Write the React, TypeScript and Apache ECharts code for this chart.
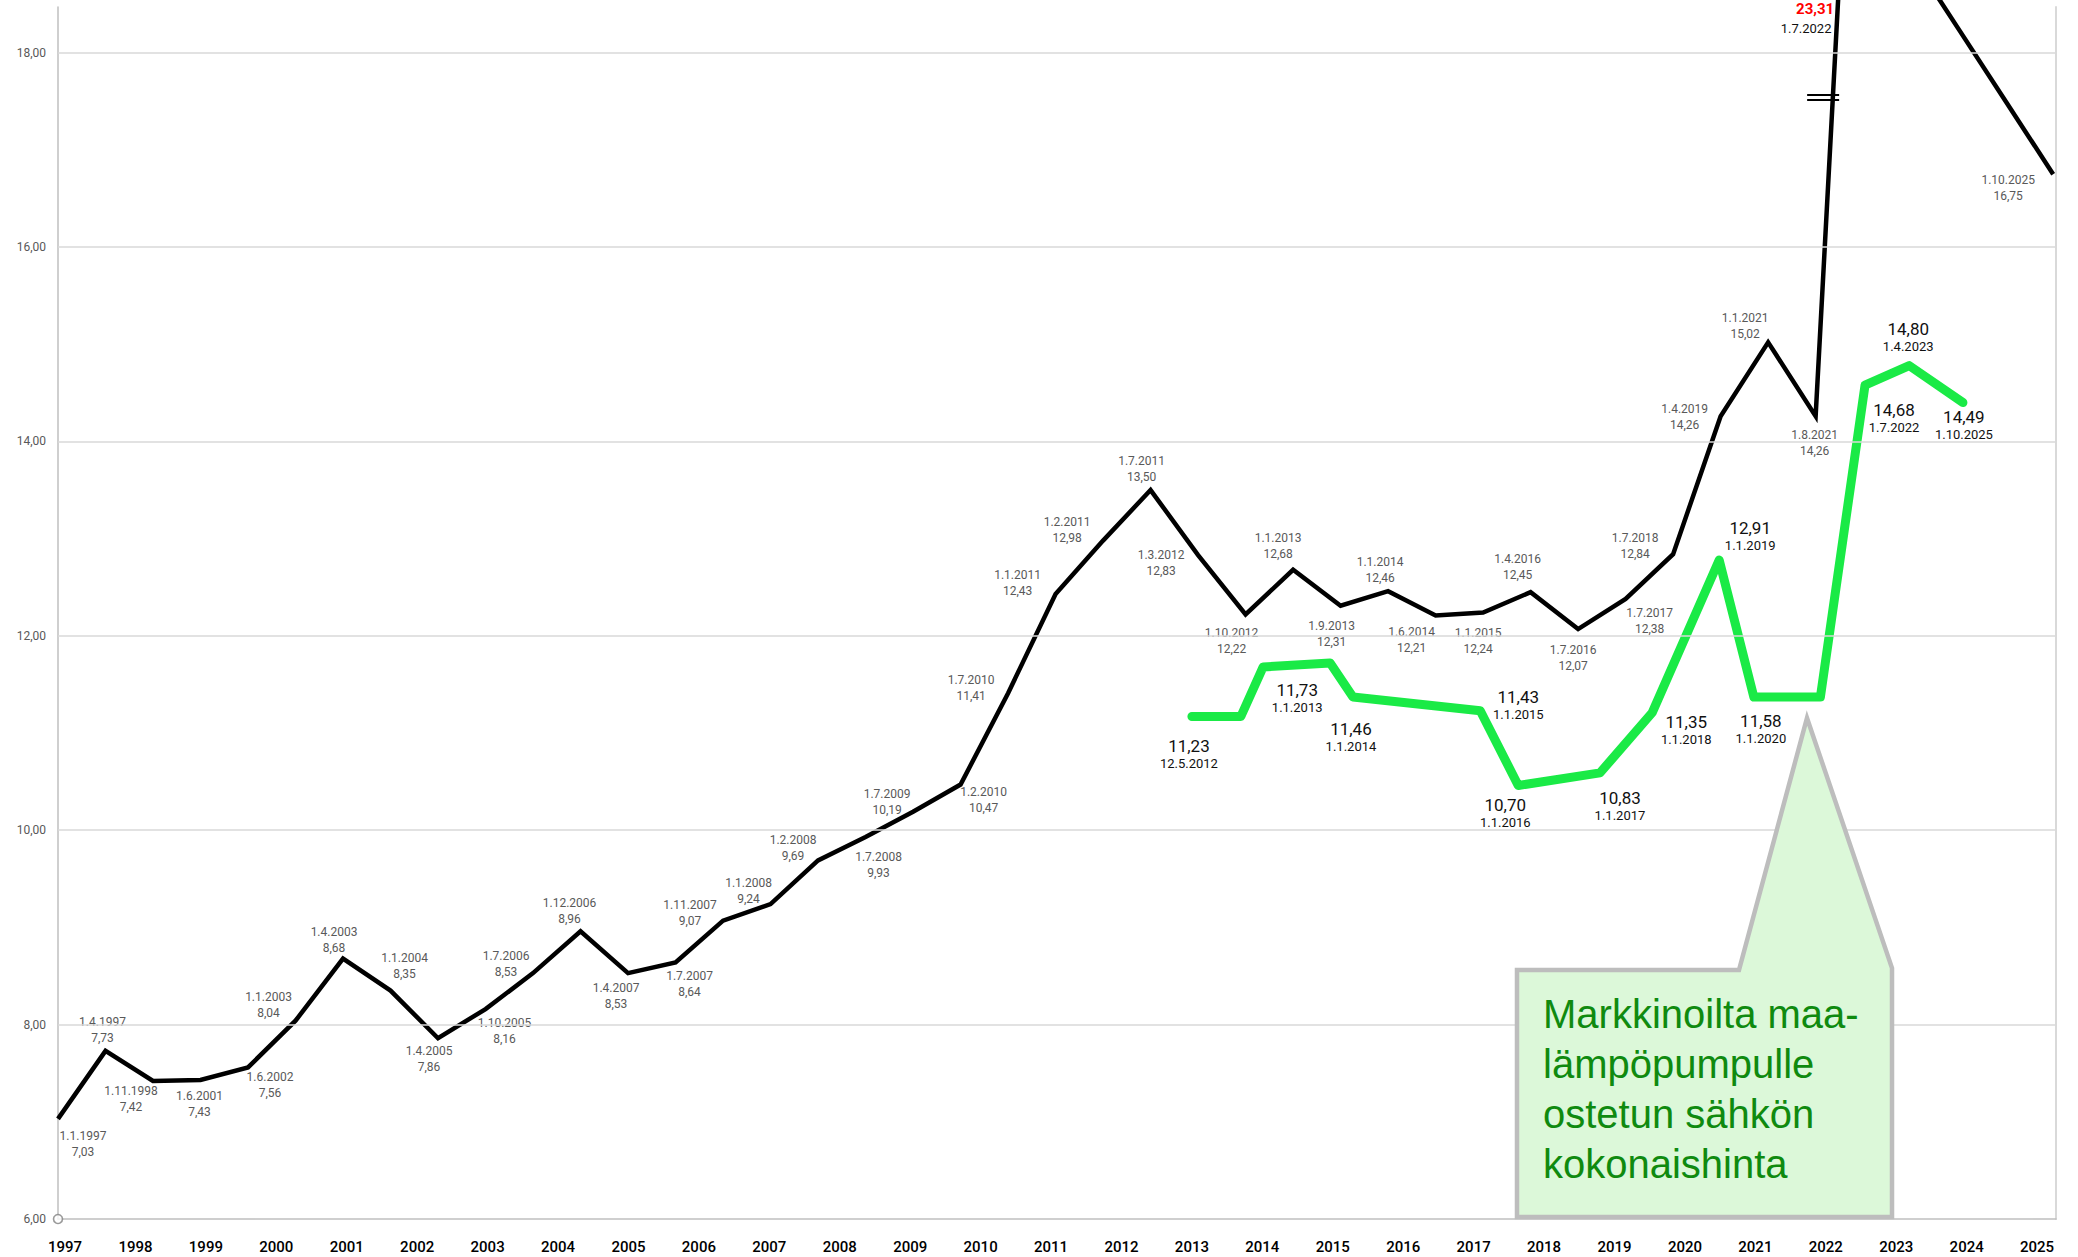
import React, { useEffect, useRef } from 'react';
import * as echarts from 'echarts';

// ---------- DATA ----------
const yearLabels = ['1997','1998','1999','2000','2001','2002','2003','2004','2005','2006','2007','2008','2009','2010','2011','2012','2013','2014','2015','2016','2017','2018','2019','2020','2021','2022','2023','2024','2025'];

const yTicks = [8, 10, 12, 14, 16, 18];

const blackDates = ['1.1.1997','1.4.1997','1.11.1998','1.6.2001','1.6.2002','1.1.2003','1.4.2003','1.1.2004','1.4.2005','1.10.2005','1.7.2006','1.12.2006','1.4.2007','1.7.2007','1.11.2007','1.1.2008','1.2.2008','1.7.2008','1.7.2009','1.2.2010','1.7.2010','1.1.2011','1.2.2011','1.7.2011','1.3.2012','1.10.2012','1.1.2013','1.9.2013','1.1.2014','1.6.2014','1.1.2015','1.4.2016','1.7.2016','1.7.2017','1.7.2018','1.4.2019','1.1.2021','1.8.2021','1.7.2022','','','','1.10.2025'];
const blackValues = [7.03,7.73,7.42,7.43,7.56,8.04,8.68,8.35,7.86,8.16,8.53,8.96,8.53,8.64,9.07,9.24,9.69,9.93,10.19,10.47,11.41,12.43,12.98,13.50,12.83,12.22,12.68,12.31,12.46,12.21,12.24,12.45,12.07,12.38,12.84,14.26,15.02,14.26,23.31,19.00,18.25,17.50,16.75];

// green series: position along the point axis and value
const greenX = [23.87, 24.9, 25.37, 26.78, 27.26, 29.94, 30.74, 32.46, 33.56, 34.97, 35.7, 37.1, 38.04, 38.97, 40.1];
const greenValues = [11.17, 11.17, 11.68, 11.72, 11.37, 11.23, 10.46, 10.59, 11.21, 12.78, 11.37, 11.37, 14.58, 14.78, 14.40];
const greenLabelValues = ['11,23','','11,73','','11,46','11,43','10,70','10,83','11,35','12,91','11,58','','14,68','14,80','14,49'];
const greenLabelDates = ['12.5.2012','','1.1.2013','','1.1.2014','1.1.2015','1.1.2016','1.1.2017','1.1.2018','1.1.2019','1.1.2020','','1.7.2022','1.4.2023','1.10.2025'];

const peakIndex = 38;
const peakValueText = '23,31';
const peakDateText = '1.7.2022';
const originMarker = [[0, 6]];

const calloutText = 'Markkinoilta maa-\nlämpöpumpulle\nostetun sähkön\nkokonaishinta';

// ---------- LAYOUT (label offsets in px) ----------
const blackLabelOffsets: (number[] | null)[] = [
  [25,25],[-3,-21],[-22,18],[-1,24],[22,18],[-27,-16],[-9,-19],[14,-25],[-9,21],[19,22],
  [-27,-9],[-11,-20],[-12,23],[14,22],[-33,-8],[-22,-13],[-25,-12],[13,28],[-26,-10],[23,15],
  [-37,-5],[-38,-11],[-36,-11],[-9,-21],[-37,8],[-14,27],[-15,-24],[-9,28],[-8,-21],[-24,25],
  [-5,28],[-13,-25],[-5,29],[24,22],[-38,-8],[-36,1],[-23,-16],[-1,27],null,null,
  null,null,[-45,14]
];
const greenLabelOffsets: (number[] | null)[] = [
  [-3,37], null, [34,31], null, [-2,40], [38,-6], [-13,27], [20,33], [34,17], [31,-24], [7,32], null, [29,33], [-1,-29], [1,22]
];

const fmt = (v: number) => v.toFixed(2).replace('.', ',');

export default function App() {
  const ref = useRef<HTMLDivElement>(null);

  useEffect(() => {
    if (!ref.current) return;
    const chart = echarts.init(ref.current, null, { renderer: 'svg' });
    const font = 'Roboto';
    const yMax = 18.47;

    const option: any = {
      animation: false,
      backgroundColor: '#ffffff',
      grid: [
        { left: 58, right: 22, top: 7, bottom: 38 },
        { left: 29.8, right: 5.7, top: 7, bottom: 38 },
      ],
      xAxis: [
        {
          type: 'value', gridIndex: 0, min: 0, max: 42.06,
          axisLine: { show: true, onZero: false, lineStyle: { color: '#bfbfbf', width: 1.5 } },
          axisTick: { show: false }, axisLabel: { show: false }, splitLine: { show: false },
        },
        {
          type: 'category', gridIndex: 1, data: yearLabels, boundaryGap: true,
          axisLine: { show: false }, axisTick: { show: false }, splitLine: { show: false },
          axisLabel: { interval: 0, margin: 20, fontSize: 15, color: '#000000', fontWeight: 500, fontFamily: font },
        },
      ],
      yAxis: [
        {
          type: 'value', gridIndex: 0, min: 6, max: yMax, interval: 2,
          axisLine: { show: true, lineStyle: { color: '#bfbfbf', width: 1.5 } },
          axisTick: { show: false }, splitLine: { show: false },
          axisLabel: {
            showMaxLabel: false,
            formatter: (v: number) => (v > 18.2 ? '' : fmt(v)),
            color: '#595959', fontSize: 12, margin: 12, fontFamily: font,
          },
        },
        { type: 'value', gridIndex: 1, min: 0, max: 1, show: false },
        {
          type: 'value', gridIndex: 0, min: 6, max: yMax, position: 'right',
          axisLine: { show: true, lineStyle: { color: '#d9d9d9', width: 2 } },
          axisTick: { show: false }, axisLabel: { show: false }, splitLine: { show: false },
        },
      ],
      series: [
        {
          type: 'line', xAxisIndex: 0, yAxisIndex: 0, silent: true, z: 1,
          data: [[0, 6]], symbol: 'none', lineStyle: { opacity: 0 },
          markLine: {
            silent: true, symbol: ['none', 'none'], label: { show: false },
            lineStyle: { color: '#d9d9d9', width: 1.5, type: 'solid' },
            data: yTicks.map((v) => ({ yAxis: v })),
          },
        },
        {
          name: 'musta', type: 'line', xAxisIndex: 0, yAxisIndex: 0, silent: true, z: 3,
          clip: false, symbol: 'circle', symbolSize: 2, showSymbol: true, showAllSymbol: true,
          itemStyle: { color: 'rgba(0,0,0,0)' },
          lineStyle: { color: '#000000', width: 4.5, join: 'miter' },
          data: blackValues.map((v, i) => {
            const off = blackLabelOffsets[i];
            return {
              value: [i, v],
              label: off ? { show: true, offset: off } : { show: false },
            };
          }),
          label: {
            position: 'inside',
            formatter: (p: any) => `{d|${blackDates[p.dataIndex]}}\n{v|${fmt(blackValues[p.dataIndex])}}`,
            rich: {
              d: { fontSize: 12, lineHeight: 16, color: '#595959', fontFamily: font, align: 'center' },
              v: { fontSize: 12, lineHeight: 16, color: '#595959', fontFamily: font, align: 'center' },
            },
          },
        },
        {
          name: 'vihreä', type: 'line', xAxisIndex: 0, yAxisIndex: 0, silent: true, z: 4,
          symbol: 'circle', symbolSize: 2, showSymbol: true, showAllSymbol: true,
          itemStyle: { color: 'rgba(0,0,0,0)' },
          lineStyle: { color: '#1aea46', width: 9, cap: 'round', join: 'round' },
          data: greenX.map((x, i) => {
            const off = greenLabelOffsets[i];
            return {
              value: [x, greenValues[i]],
              label: off ? { show: true, offset: off } : { show: false },
            };
          }),
          label: {
            position: 'inside',
            formatter: (p: any) => `{v|${greenLabelValues[p.dataIndex]}}\n{d|${greenLabelDates[p.dataIndex]}}`,
            rich: {
              v: { fontSize: 17, lineHeight: 19, color: '#111111', fontFamily: font, align: 'center' },
              d: { fontSize: 13, lineHeight: 16, color: '#111111', fontFamily: font, align: 'center' },
            },
          },
        },
        {
          type: 'scatter', xAxisIndex: 0, yAxisIndex: 0, silent: true, z: 5, clip: false,
          data: originMarker, symbol: 'circle', symbolSize: 9,
          itemStyle: { color: '#ffffff', borderColor: '#7f7f7f', borderWidth: 1.6 },
        },
      ],
    };

    chart.setOption(option);

    const peakPx = chart.convertToPixel({ gridIndex: 0 }, [peakIndex, 18]) as number[];
    const px = peakPx ? peakPx[0] : 1863;

    chart.setOption({
      graphic: [
        {
          type: 'polygon', z: 10, silent: true,
          shape: { points: [[1517, 970], [1739, 970], [1807, 718], [1892, 968], [1892, 1217], [1517, 1217]] },
          style: { fill: '#dcf8d9', stroke: '#bdbdbd', lineWidth: 4.5 },
        },
        {
          type: 'text', z: 11, silent: true, x: 1543, y: 989,
          style: {
            text: calloutText, fill: '#0f8a0f', font: '40px "Liberation Sans"', lineHeight: 50,
            textAlign: 'left', textVerticalAlign: 'top',
          },
        },
        {
          type: 'line', z: 11, silent: true,
          shape: { x1: px - 56, y1: 95, x2: px - 24, y2: 95 },
          style: { stroke: '#000000', lineWidth: 2 },
        },
        {
          type: 'line', z: 11, silent: true,
          shape: { x1: px - 56, y1: 100, x2: px - 24, y2: 100 },
          style: { stroke: '#000000', lineWidth: 2 },
        },
        {
          type: 'text', z: 11, silent: true, x: px - 48, y: 9,
          style: { text: peakValueText, fill: '#ff0000', font: 'bold 15px Roboto', textAlign: 'center', textVerticalAlign: 'middle' },
        },
        {
          type: 'text', z: 11, silent: true, x: px - 57, y: 28,
          style: { text: peakDateText, fill: '#111111', font: '13px Roboto', textAlign: 'center', textVerticalAlign: 'middle' },
        },
      ],
    });

    return () => chart.dispose();
  }, []);

  return (
    <div
      ref={ref}
      style={{ position: 'fixed', left: 0, top: 0, width: 2078, height: 1257, background: '#ffffff' }}
    />
  );
}
